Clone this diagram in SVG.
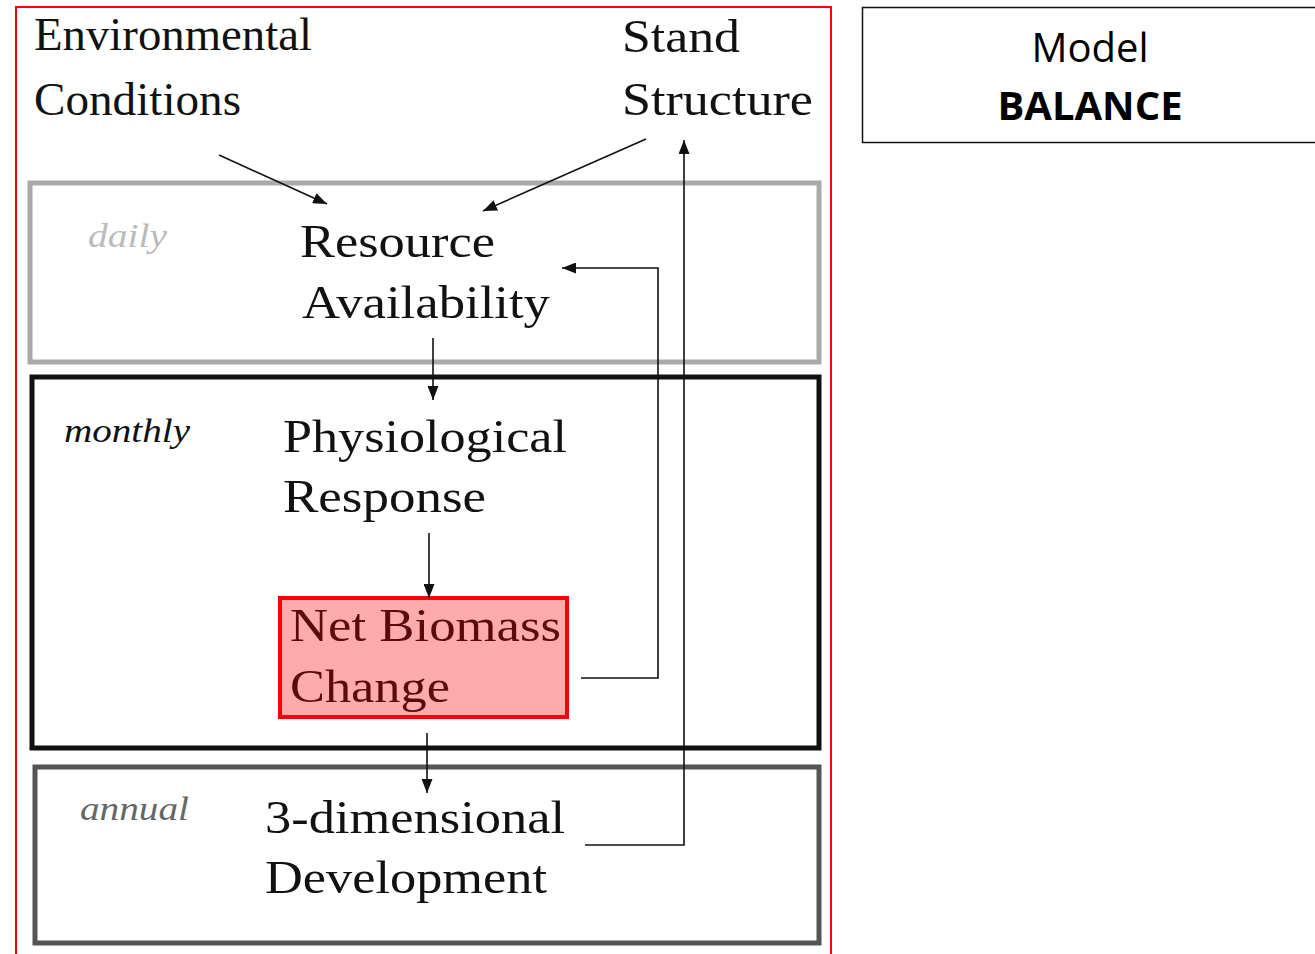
<svg xmlns="http://www.w3.org/2000/svg" width="1315" height="954" viewBox="0 0 1315 954">
<style>
.t{font-family:"Times New Roman","Liberation Serif",Times,serif;font-size:47px;fill:#111}
.i{font-family:"Times New Roman","Liberation Serif",Times,serif;font-size:34px;font-style:italic}
.c{fill:none;stroke:#111;stroke-width:1.6}
.m{font-family:"Open Sans","Liberation Sans",sans-serif;font-size:40px;fill:#000;text-anchor:middle}
.r{fill:#5a0a0a}
</style>
<defs>
<marker id="ah" viewBox="0 0 14 11" refX="14" refY="5.5" markerWidth="14" markerHeight="11" markerUnits="userSpaceOnUse" orient="auto">
<path d="M0,0 L14,5.5 L0,11 Z" fill="#111"/>
</marker>
</defs>
<rect x="0" y="0" width="1315" height="954" fill="#fff"/>
<rect id="frame" x="16" y="7" width="815" height="960" fill="none" stroke="#ff0000" stroke-width="2"/>
<g id="model">
<rect x="862.5" y="7.5" width="460" height="135" fill="#fff" stroke="#111" stroke-width="1.5"/>
<text class="m" x="1090" y="62">Model</text>
<text class="m" x="1090" y="120" font-weight="bold">BALANCE</text>
</g>
<g id="env">
<text class="t" x="34" y="50" textLength="278" lengthAdjust="spacingAndGlyphs">Environmental</text>
<text class="t" x="34" y="115" textLength="207" lengthAdjust="spacingAndGlyphs">Conditions</text>
</g>
<g id="stand">
<text class="t" x="622" y="52" textLength="118" lengthAdjust="spacingAndGlyphs">Stand</text>
<text class="t" x="622" y="115" textLength="191" lengthAdjust="spacingAndGlyphs">Structure</text>
</g>
<g id="daily">
<rect x="30" y="183" width="789" height="179" fill="none" stroke="#aaaaaa" stroke-width="5"/>
<text class="i" x="88" y="247" fill="#bbbbbb" textLength="79" lengthAdjust="spacingAndGlyphs">daily</text>
<text class="t" x="300" y="257" textLength="195" lengthAdjust="spacingAndGlyphs">Resource</text>
<text class="t" x="302" y="318" textLength="248" lengthAdjust="spacingAndGlyphs">Availability</text>
</g>
<g id="monthly">
<rect x="32" y="377" width="787" height="371" fill="none" stroke="#111" stroke-width="5"/>
<text class="i" x="64" y="442" fill="#111" textLength="126" lengthAdjust="spacingAndGlyphs">monthly</text>
<text class="t" x="283" y="452" textLength="284" lengthAdjust="spacingAndGlyphs">Physiological</text>
<text class="t" x="283" y="512" textLength="203" lengthAdjust="spacingAndGlyphs">Response</text>
</g>
<g id="netbiomass">
<rect x="280" y="598" width="287" height="119" fill="#ffabab" stroke="#ff0000" stroke-width="4"/>
<text class="t r" x="290" y="641" textLength="271" lengthAdjust="spacingAndGlyphs">Net Biomass</text>
<text class="t r" x="290" y="702" textLength="160" lengthAdjust="spacingAndGlyphs">Change</text>
</g>
<g id="annual">
<rect x="35" y="767" width="784" height="176" fill="none" stroke="#555" stroke-width="5"/>
<text class="i" x="80" y="820" fill="#666" textLength="109" lengthAdjust="spacingAndGlyphs">annual</text>
<text class="t" x="265" y="833" textLength="300" lengthAdjust="spacingAndGlyphs">3-dimensional</text>
<text class="t" x="265" y="893" textLength="282" lengthAdjust="spacingAndGlyphs">Development</text>
</g>
<g id="connectors">
<path class="c" d="M219,155 L327,204" marker-end="url(#ah)"/>
<path class="c" d="M646,139 L483,211" marker-end="url(#ah)"/>
<path class="c" d="M581,678 H658 V268 H562" marker-end="url(#ah)"/>
<path class="c" d="M585,845 H684 V140" marker-end="url(#ah)"/>
<path class="c" d="M433,338 V400" marker-end="url(#ah)"/>
<path class="c" d="M429,533 V598" marker-end="url(#ah)"/>
<path class="c" d="M427,733 V793" marker-end="url(#ah)"/>
</g>
</svg>
